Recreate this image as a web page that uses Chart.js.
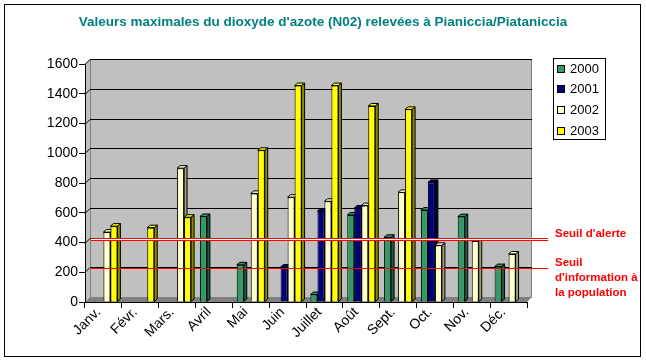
<!DOCTYPE html>
<html><head><meta charset="utf-8">
<script src="https://cdn.jsdelivr.net/npm/chart.js@4.4.0/dist/chart.umd.min.js"></script>
<style>html,body{margin:0;padding:0;background:#fff}canvas{display:block}</style>
</head><body>
<canvas id="c" width="646" height="362" style="width:646px;height:362px"></canvas>
<script>
const titleText = "Valeurs maximales du dioxyde d'azote (N02) relevées à Pianiccia/Piataniccia";
const months = ['Janv.', 'Févr.', 'Mars.', 'Avril', 'Mai', 'Juin', 'Juillet', 'Août', 'Sept.', 'Oct.', 'Nov.', 'Déc.'];
const years = ['2000', '2001', '2002', '2003'];
const v2000 = [null, null, null, 575, 250, null, 50, 585, 435, 618, 574, 238];
const v2001 = [null, null, null, null, null, 235, 612, 632, null, 804, null, null];
const v2002 = [470, null, 900, null, 730, 705, 677, 648, 737, 381, 410, 323];
const v2003 = [510, 500, 570, null, 1020, 1455, 1455, 1318, 1295, null, null, null];
const yMax = 1600;
const yStep = 200;
const alertLevel = 400;
const infoLevel = 200;
const alertLabel = ["Seuil d'alerte"];
const infoLabel = ["Seuil", "d'information à", "la population"];

const colors = ['#339966', '#000080', '#FFFFCC', '#FFFF00'];
const sideColors = ['#1d5c3c', '#000048', '#9a9a7a', '#8a8a00'];
const FONT = '"Liberation Sans", Arial, sans-serif';
const DX = 5, DY = -5;     // wall depth
const BX = 3, BY = -2.5;   // bar depth

const wallPlugin = {
  id: 'walls',
  beforeDraw(chart) {
    const { ctx, chartArea: a, scales: { y } } = chart;
    ctx.save();
    ctx.fillStyle = '#fff';
    ctx.fillRect(0, 0, chart.width, chart.height);
    ctx.strokeStyle = '#000'; ctx.lineWidth = 1;
    ctx.strokeRect(4.5, 4.5, 636, 352);
    const L = a.left, R = a.right, T = a.top, B = a.bottom;
    ctx.fillStyle = '#c0c0c0';
    ctx.fillRect(L + DX, T + DY, R - L, B - T);
    ctx.beginPath();
    ctx.moveTo(L, T); ctx.lineTo(L + DX, T + DY); ctx.lineTo(L + DX, B + DY); ctx.lineTo(L, B); ctx.closePath();
    ctx.fill();
    ctx.fillStyle = '#808080';
    ctx.beginPath();
    ctx.moveTo(L, B); ctx.lineTo(L + DX, B + DY); ctx.lineTo(R + DX, B + DY); ctx.lineTo(R, B); ctx.closePath();
    ctx.fill();
    ctx.strokeStyle = '#808080';
    ctx.strokeRect(L + DX + 0.5, T + DY + 0.5, R - L - 1, B - T);
    ctx.beginPath(); ctx.moveTo(L + DX + 0.5, T + DY); ctx.lineTo(L + DX + 0.5, B + DY); ctx.stroke();
    ctx.strokeStyle = '#000';
    y.ticks.forEach(t => {
      if (t.value === 0) return;
      const pf = Math.round(y.getPixelForValue(t.value));
      const pb = pf + DY;
      ctx.beginPath();
      ctx.moveTo(L, pf + 0.5); ctx.lineTo(L + DX, pb + 0.5); ctx.lineTo(R + DX, pb + 0.5);
      ctx.stroke();
    });
    ctx.restore();
  }
};

const barFacePlugin = {
  id: 'barFaces',
  beforeDatasetsDraw(chart) {
    const ctx = chart.ctx;
    ctx.save();
    ctx.strokeStyle = '#000'; ctx.lineWidth = 1;
    for (let j = 0; j < months.length; j++) {
      chart.data.datasets.forEach((ds, i) => {
        if (ds.data[j] == null) return;
        const bar = chart.getDatasetMeta(i).data[j];
        const { x, y, base, width } = bar.getProps(['x', 'y', 'base', 'width'], true);
        const l = x - width / 2, r = x + width / 2;
        ctx.fillStyle = sideColors[i];
        ctx.beginPath();
        ctx.moveTo(r, y); ctx.lineTo(r + BX, y + BY); ctx.lineTo(r + BX, base + BY); ctx.lineTo(r, base); ctx.closePath();
        ctx.fill(); ctx.stroke();
        ctx.fillStyle = colors[i];
        ctx.beginPath();
        ctx.moveTo(l, y); ctx.lineTo(l + BX, y + BY); ctx.lineTo(r + BX, y + BY); ctx.lineTo(r, y); ctx.closePath();
        ctx.fill(); ctx.stroke();
      });
    }
    ctx.restore();
  }
};

const overlayPlugin = {
  id: 'overlay',
  afterDatasetsDraw(chart) {
    const { ctx, chartArea: a, scales: { y } } = chart;
    ctx.save();
    const x0 = a.left + DX + 1, x1 = 548;
    const ya = Math.round(y.getPixelForValue(alertLevel) + DY);
    ctx.fillStyle = '#ff0000';
    ctx.fillRect(x0, ya, x1 - x0, 1);
    ctx.fillRect(x0, ya + 2, x1 - x0, 1);
    ctx.fillStyle = '#ffffff';
    ctx.fillRect(x0, ya + 1, x1 - x0, 1);
    const yi = Math.round(y.getPixelForValue(infoLevel) + DY) + 1;
    ctx.fillStyle = '#ff0000';
    ctx.fillRect(x0, yi, x1 - x0, 1);
    ctx.restore();
  },
  afterDraw(chart) {
    const ctx = chart.ctx;
    ctx.save();
    ctx.fillStyle = '#008080';
    ctx.font = 'bold 13.5px ' + FONT;
    ctx.textAlign = 'center'; ctx.textBaseline = 'middle';
    ctx.fillText(titleText, 323, 22);
    ctx.fillStyle = '#fff';
    ctx.fillRect(553.5, 58.5, 52, 81);
    ctx.strokeStyle = '#000'; ctx.lineWidth = 1;
    ctx.strokeRect(553.5, 58.5, 52, 81);
    ctx.font = '13px ' + FONT;
    ctx.textAlign = 'left'; ctx.textBaseline = 'middle';
    chart.data.datasets.forEach((ds, i) => {
      const cy = 68 + i * 20.7;
      ctx.fillStyle = colors[i];
      ctx.fillRect(557.5, Math.round(cy - 3.5) + 0.5, 7, 7);
      ctx.strokeRect(557.5, Math.round(cy - 3.5) + 0.5, 7, 7);
      ctx.fillStyle = '#000';
      ctx.fillText(ds.label, 570, cy + 1);
    });
    ctx.fillStyle = '#ff0000';
    ctx.font = 'bold 11.5px ' + FONT;
    alertLabel.forEach((t, k) => ctx.fillText(t, 555, 234 + k * 15));
    infoLabel.forEach((t, k) => ctx.fillText(t, 555, 263 + k * 15));
    ctx.restore();
  }
};

const datasets = [v2000, v2001, v2002, v2003].map((d, i) => ({
  label: years[i],
  data: d,
  backgroundColor: colors[i],
  borderColor: '#000',
  borderWidth: 1,
  categoryPercentage: 0.76,
  barPercentage: 1.0
}));

new Chart(document.getElementById('c'), {
  type: 'bar',
  data: { labels: months, datasets },
  options: {
    responsive: false,
    animation: false,
    devicePixelRatio: 1,
    layout: { padding: { left: 5, right: 119, top: 64, bottom: 5 } },
    plugins: { legend: { display: false }, title: { display: false }, tooltip: { enabled: false } },
    scales: {
      x: {
        afterFit(s) { s.height = 55; },
        grid: { display: true, drawOnChartArea: false, offset: true, tickLength: 6, color: '#000' },
        border: { display: true, color: '#000' },
        ticks: { autoSkip: false, minRotation: 45, maxRotation: 45, color: '#000', font: { family: FONT, size: 14 }, padding: -4, labelOffset: -5 }
      },
      y: {
        min: 0, max: yMax,
        afterFit(s) { s.width = 80; },
        grid: { display: true, drawOnChartArea: false, tickLength: 6, color: '#000' },
        border: { display: true, color: '#000' },
        ticks: { stepSize: yStep, color: '#000', font: { family: FONT, size: 14 }, padding: 1, callback: v => String(v) }
      }
    }
  },
  plugins: [wallPlugin, barFacePlugin, overlayPlugin]
});
</script>
</body></html>
